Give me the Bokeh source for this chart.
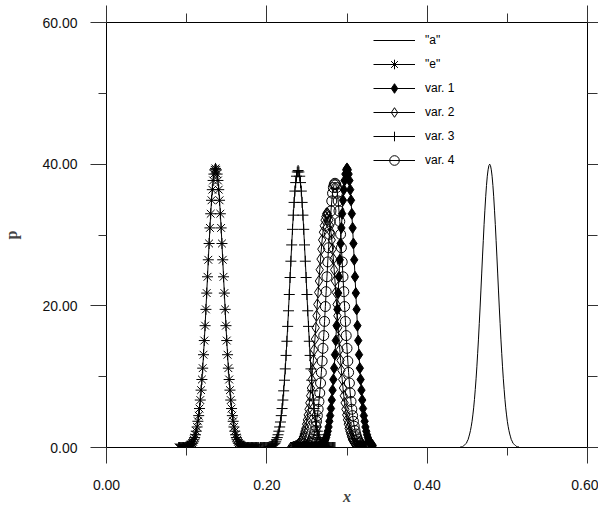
from bokeh.plotting import figure
from bokeh.models import (Range1d, LinearAxis, FixedTicker, PrintfTickFormatter, Legend,
                          LegendItem, CustomJSTickFormatter)
from bokeh.embed import file_html
from bokeh.resources import INLINE

# ---- data ----
x_step = 0.001

a_x0 = 0.434
a_y = [0.0, 0.0, 0.0, 0.0, 0.0, 0.0, 0.0, 0.0,
       0.1, 0.1, 0.1, 0.2, 0.3, 0.4, 0.5, 0.6, 0.9, 1.1, 1.5, 1.9, 2.4, 3.0, 3.7, 4.6,
       5.6, 6.8, 8.2, 9.7, 11.4, 13.3, 15.3, 17.5, 19.7, 22.1, 24.5, 26.9, 29.2, 31.5,
       33.5, 35.4, 37.0, 38.3, 39.2, 39.8,
       40.0,
       39.8, 39.2, 38.3, 37.0, 35.4, 33.5, 31.5, 29.2, 26.9, 24.5, 22.1, 19.7, 17.5,
       15.3, 13.3, 11.4, 9.7, 8.2, 6.8, 5.6, 4.6, 3.7, 3.0, 2.4, 1.9, 1.5, 1.1, 0.9,
       0.6, 0.5, 0.4, 0.3, 0.2, 0.1, 0.1, 0.1,
       0.0, 0.0, 0.0, 0.0, 0.0, 0.0, 0.0, 0.0]

e_x0 = 0.090
e_y = [0.0, 0.0, 0.0, 0.0, 0.0, 0.0, 0.0, 0.0, 0.0, 0.0,
       0.1, 0.1, 0.1, 0.2, 0.3, 0.4, 0.5, 0.6, 0.8, 1.1, 1.4, 1.8, 2.3, 2.9, 3.7, 4.5,
       5.5, 6.7, 8.1, 9.6, 11.2, 13.1, 15.1, 17.2, 19.5, 21.8, 24.1, 26.5, 28.8, 31.0,
       33.0, 34.9, 36.4, 37.7, 38.6, 39.2,
       39.4,
       39.2, 38.6, 37.7, 36.4, 34.9, 33.0, 31.0, 28.8, 26.5, 24.1, 21.8, 19.5, 17.2,
       15.1, 13.1, 11.2, 9.6, 8.1, 6.7, 5.5, 4.5, 3.7, 2.9, 2.3, 1.8, 1.4, 1.1, 0.8,
       0.6, 0.5, 0.4, 0.3, 0.2, 0.1, 0.1, 0.1,
       0.0, 0.0, 0.0, 0.0, 0.0, 0.0, 0.0, 0.0, 0.0, 0.0, 0.0, 0.0, 0.0, 0.0, 0.0, 0.0,
       0.0, 0.0]

v1_x0 = 0.236
v1_y = [0.0, 0.0, 0.0, 0.0, 0.0, 0.0, 0.0, 0.0, 0.0, 0.0, 0.0, 0.0, 0.0, 0.0, 0.0,
        0.0, 0.0, 0.0, 0.0, 0.0, 0.0, 0.0, 0.0, 0.0, 0.0, 0.0, 0.0, 0.0,
        0.1, 0.1, 0.1, 0.2, 0.3, 0.4, 0.5, 0.6, 0.8, 1.1, 1.4, 1.8, 2.3, 2.9, 3.7, 4.5,
        5.5, 6.7, 8.1, 9.6, 11.2, 13.1, 15.1, 17.2, 19.5, 21.8, 24.1, 26.5, 28.8, 31.0,
        33.0, 34.9, 36.4, 37.7, 38.6, 39.2,
        39.4,
        39.2, 38.6, 37.7, 36.4, 34.9, 33.0, 31.0, 28.8, 26.5, 24.1, 21.8, 19.5, 17.2,
        15.1, 13.1, 11.2, 9.6, 8.1, 6.7, 5.5, 4.5, 3.7, 2.9, 2.3, 1.8, 1.4, 1.1, 0.8,
        0.6, 0.5, 0.4, 0.3]

v2_x0 = 0.230
v2_y = [0.0, 0.0, 0.0, 0.1, 0.1, 0.1, 0.2, 0.2, 0.3, 0.4, 0.5, 0.6, 0.8, 1.0, 1.2,
        1.5, 1.9, 2.3, 2.7, 3.3, 3.9, 4.6, 5.4, 6.3, 7.3, 8.4, 9.6, 10.9, 12.3, 13.8,
        15.3, 16.9, 18.6, 20.2, 21.9, 23.5, 25.1, 26.6, 28.0, 29.3, 30.4, 31.3, 32.1,
        32.6, 33.0,
        33.1,
        33.0, 32.6, 32.1, 31.3, 30.4, 29.3, 28.0, 26.6, 25.1, 23.5, 21.9, 20.2, 18.6,
        16.9, 15.3, 13.8, 12.3, 10.9, 9.6, 8.4, 7.3, 6.3, 5.4, 4.6, 3.9, 3.3, 2.7, 2.3,
        1.9, 1.5, 1.2, 1.0, 0.8, 0.6, 0.5, 0.4, 0.3, 0.2, 0.2, 0.1, 0.1, 0.1, 0.0, 0.0,
        0.0]

v3_x0 = 0.192
v3_y = [0.0, 0.0, 0.0, 0.0, 0.0, 0.0, 0.0, 0.0, 0.0, 0.0, 0.0,
        0.1, 0.1, 0.1, 0.2, 0.3, 0.4, 0.5, 0.6, 0.8, 1.1, 1.4, 1.8, 2.3, 2.9, 3.6, 4.5,
        5.5, 6.7, 8.0, 9.5, 11.1, 13.0, 15.0, 17.1, 19.3, 21.6, 24.0, 26.3, 28.6, 30.8,
        32.8, 34.6, 36.2, 37.4, 38.3, 38.9,
        39.1,
        38.9, 38.3, 37.4, 36.2, 34.6, 32.8, 30.8, 28.6, 26.3, 24.0, 21.6, 19.3, 17.1,
        15.0, 13.0, 11.1, 9.5, 8.0, 6.7, 5.5, 4.5, 3.6, 2.9, 2.3, 1.8, 1.4, 1.1, 0.8,
        0.6, 0.5, 0.4, 0.3, 0.2, 0.1, 0.1, 0.1,
        0.0, 0.0, 0.0, 0.0, 0.0, 0.0, 0.0, 0.0, 0.0, 0.0]

v4_x0 = 0.240
v4_y = [0.0, 0.0, 0.0, 0.0, 0.0, 0.0, 0.0, 0.1, 0.1, 0.1, 0.2, 0.2, 0.3, 0.4, 0.6,
        0.7, 0.9, 1.2, 1.5, 1.9, 2.4, 3.0, 3.7, 4.5, 5.4, 6.5, 7.7, 9.1, 10.6, 12.2,
        14.0, 15.8, 17.8, 19.9, 22.0, 24.1, 26.2, 28.2, 30.1, 31.9, 33.4, 34.8, 35.9,
        36.7, 37.1,
        37.3,
        37.1, 36.7, 35.9, 34.8, 33.4, 31.9, 30.1, 28.2, 26.2, 24.1, 22.0, 19.9, 17.8,
        15.8, 14.0, 12.2, 10.6, 9.1, 7.7, 6.5, 5.4, 4.5, 3.7, 3.0, 2.4, 1.9, 1.5, 1.2,
        0.9, 0.7, 0.6, 0.4, 0.3, 0.2, 0.2, 0.1, 0.1, 0.1, 0.0, 0.0, 0.0, 0.0, 0.0, 0.0,
        0.0]

x_ticks = [0.0, 0.2, 0.4, 0.6]
x_minor = [0.1, 0.3, 0.5]
y_ticks = [0, 20, 40, 60]
y_minor = [10, 30, 50]
labels = ['"a"', '"e"', "var. 1", "var. 2", "var. 3", "var. 4"]


def grid(x0, ys):
    return [round(x0 + x_step * i, 4) for i in range(len(ys))]


p = figure(width=598, height=510, output_backend="svg", toolbar_location=None,
           x_range=Range1d(0, 0.6), y_range=Range1d(0, 60),
           x_axis_location=None, y_axis_location=None,
           min_border_left=103, min_border_right=11, min_border_top=22, min_border_bottom=63)
p.grid.visible = False
p.outline_line_color = None
p.background_fill_color = "white"
p.border_fill_color = "white"

TICK_FONT = "Liberation Sans"


def make_axis(ticks, minor, major_out, minor_out, show_labels):
    ax = LinearAxis(ticker=FixedTicker(ticks=ticks, minor_ticks=minor))
    ax.axis_line_color = "black"
    ax.axis_line_width = 1
    ax.major_tick_line_color = "#333333"
    ax.minor_tick_line_color = "#333333"
    ax.major_tick_in = 0
    ax.minor_tick_in = 0
    ax.major_tick_out = major_out
    ax.minor_tick_out = minor_out
    if show_labels:
        ax.formatter = PrintfTickFormatter(format="%.2f")
        ax.major_label_text_font = TICK_FONT
        ax.major_label_text_font_size = "14px"
        ax.major_label_text_color = "#111111"
        ax.major_label_standoff = 9
    else:
        ax.formatter = CustomJSTickFormatter(code="return ''")
        ax.major_label_text_font_size = "0px"
        ax.major_label_standoff = 0
    return ax


bottom = make_axis(x_ticks, x_minor, 16, 8, True)
bottom.major_label_standoff = 16
bottom.axis_label = "x"
bottom.axis_label_text_font = "Liberation Serif"
bottom.axis_label_text_font_style = "bold italic"
bottom.axis_label_text_font_size = "16px"
bottom.axis_label_standoff = -5
p.add_layout(bottom, "below")

left = make_axis(y_ticks, y_minor, 16, 8, True)
left.major_label_standoff = 13
left.axis_label = "p"
left.axis_label_text_font = "Liberation Serif"
left.axis_label_text_font_style = "bold"
left.axis_label_text_font_size = "16px"
left.axis_label_standoff = 19
p.add_layout(left, "left")

top = make_axis(x_ticks, x_minor, 17, 9, False)
p.add_layout(top, "above")
right = make_axis(y_ticks, y_minor, 11, 10, False)
p.add_layout(right, "right")

# ---- series ----
ra = p.line(grid(a_x0, a_y), a_y, line_color="black", line_width=1)

le = p.line(grid(e_x0, e_y), e_y, line_color="black", line_width=1)
se = p.scatter(grid(e_x0, e_y), e_y, marker="asterisk", size=11, line_color="black", line_width=1)

l1 = p.line(grid(v1_x0, v1_y), v1_y, line_color="black", line_width=1)
s1 = p.scatter(grid(v1_x0, v1_y), v1_y, marker="diamond", size=11, line_color="black",
               fill_color="black", line_width=1)

l2 = p.line(grid(v2_x0, v2_y), v2_y, line_color="black", line_width=1)
s2 = p.scatter(grid(v2_x0, v2_y), v2_y, marker="diamond", size=11, line_color="black",
               fill_color=None, line_width=1)

l3 = p.line(grid(v3_x0, v3_y), v3_y, line_color="black", line_width=1)
s3 = p.scatter(grid(v3_x0, v3_y), v3_y, marker="cross", size=11, line_color="black", line_width=1)

l4 = p.line(grid(v4_x0, v4_y), v4_y, line_color="black", line_width=1)
s4 = p.scatter(grid(v4_x0, v4_y), v4_y, marker="circle", size=10, line_color="black",
               fill_color=None, line_width=1)

items = [
    LegendItem(label=labels[0], renderers=[ra]),
    LegendItem(label=labels[1], renderers=[le, se]),
    LegendItem(label=labels[2], renderers=[l1, s1]),
    LegendItem(label=labels[3], renderers=[l2, s2]),
    LegendItem(label=labels[4], renderers=[l3, s3]),
    LegendItem(label=labels[5], renderers=[l4, s4]),
]
legend = Legend(items=items, location=(267, 275), orientation="vertical",
                glyph_width=42, glyph_height=24, label_height=20, spacing=0,
                label_standoff=10, padding=0, margin=0, border_line_color=None,
                background_fill_alpha=0, label_text_font=TICK_FONT,
                label_text_font_size="12px", label_text_color="black")
p.add_layout(legend)

open("out.html", "w").write(file_html(p, INLINE))
